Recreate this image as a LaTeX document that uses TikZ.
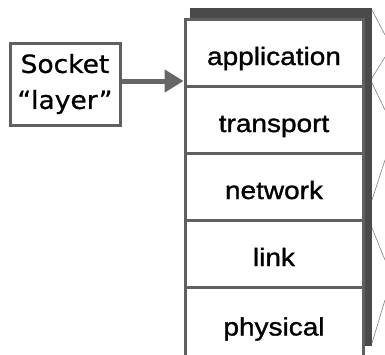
\documentclass[tikz,border=0pt]{standalone}
\usepackage{fontspec}
\setmainfont{Liberation Sans}
\newfontfamily\layerfont[FakeStretch=1.12,FakeBold=1.2]{Liberation Sans}
\newfontfamily\sockfont[FakeStretch=1.06,FakeBold=0.8]{DejaVu Sans}
\usetikzlibrary{arrows.meta}
\definecolor{edgegray}{HTML}{606060}
\definecolor{shadowgray}{HTML}{4A4A4A}
\definecolor{arrowgray}{HTML}{666666}
\definecolor{thingray}{HTML}{808080}
\begin{document}
\begin{tikzpicture}[x=1pt,y=-1pt,
  layerbox/.style={draw=edgegray,line width=3pt,fill=white,rectangle,
    minimum width=178pt,minimum height=67pt,inner sep=0pt,
    font=\layerfont\fontsize{25}{27}\selectfont,text height=30pt,text depth=6pt},
  sockbox/.style={draw=edgegray,line width=3pt,fill=white,rectangle,
    minimum width=110pt,minimum height=82pt,inner sep=0pt,align=center,
    font=\sockfont\fontsize{25}{36}\selectfont},
  conn/.style={draw=arrowgray,line width=5pt,-{Triangle[length=19pt,width=22pt]}},
  thin/.style={draw=thingray,line width=0.6pt}]
\useasboundingbox (0,0) rectangle (385,354);
% shadow
\fill[shadowgray] (190,8) rectangle (372,346);
% layers
\node[layerbox] (app) at (274,53) {application};
\node[layerbox] (trans) at (274,120) {transport};
\node[layerbox] (net) at (274,187) {network};
\node[layerbox] (link) at (274,254) {link};
\node[layerbox,minimum height=72pt] (phys) at (274,323.5) {physical};
% socket
\node[sockbox] (sock) at (65,84) {Socket\\“layer”};
\draw[conn] ([yshift=3pt]sock.east) -- ([yshift=3pt]sock.east -| app.west);
% thin lines at right edge
\draw[thin] (372,10) -- (385,35);
\draw[thin] (372,78) -- (385,57);
\draw[thin] (372,83) -- (385,110);
\draw[thin] (372,200) -- (385,160);
\draw[thin] (372,228) -- (385,260);
\draw[thin] (372,343) -- (385,300);
\end{tikzpicture}
\end{document}
